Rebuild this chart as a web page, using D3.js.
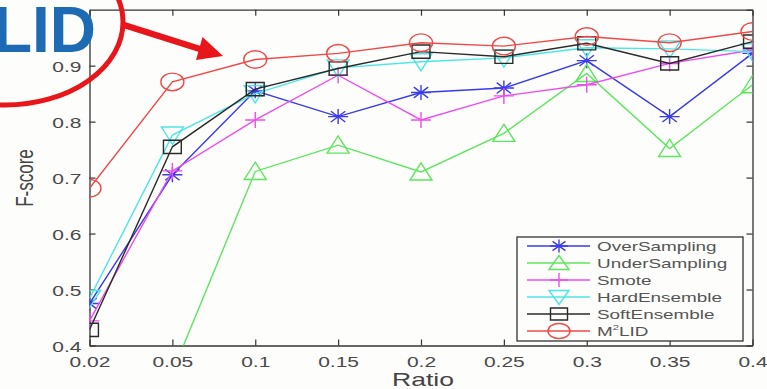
<!DOCTYPE html>
<html><head><meta charset="utf-8">
<script src="https://cdn.jsdelivr.net/npm/d3@7/dist/d3.min.js"></script>
<style>body{margin:0;background:#fdfdfb}svg{display:block}</style>
</head><body>
<script>
const categories = ["0.02","0.05","0.1","0.15","0.2","0.25","0.3","0.35","0.4"];
const yTicks = [0.4, 0.5, 0.6, 0.7, 0.8, 0.9];
const overSampling  = [0.475, 0.705, 0.855, 0.809, 0.852, 0.860, 0.909, 0.809, 0.922];
const underSampling = [0.300, 0.352, 0.711, 0.758, 0.710, 0.779, 0.886, 0.752, 0.866];
const smote         = [0.444, 0.712, 0.803, 0.883, 0.803, 0.846, 0.866, 0.904, 0.928];
const hardEnsemble  = [0.484, 0.776, 0.850, 0.896, 0.907, 0.914, 0.932, 0.930, 0.925];
const softEnsemble  = [0.428, 0.755, 0.858, 0.895, 0.925, 0.916, 0.940, 0.904, 0.943];
const m2lid         = [0.681, 0.871, 0.911, 0.922, 0.941, 0.935, 0.952, 0.941, 0.961];
const seriesNames = ["OverSampling","UnderSampling","Smote","HardEnsemble","SoftEnsemble","M2LID"];
const seriesColors = ["#3b3bee","#5ce65c","#ee4cee","#4ce6e6","#2a2a2a","#f04848"];
const seriesMarkers = ["star","triUp","plus","triDown","square","circle"];
const seriesValues = [overSampling, underSampling, smote, hardEnsemble, softEnsemble, m2lid];

const W = 767, H = 389;
const L = 89.5, R = 752.5, T = 9.7, B = 345.5;
const SX = 1.4;
const svg = d3.select("body").append("svg").attr("width", W).attr("height", H);
svg.append("rect").attr("width", W).attr("height", H).attr("fill", "#fdfdfb");

const x = d3.scalePoint().domain(categories).range([L, R]);
const y = d3.scaleLinear().domain([0.4, 1.0]).range([B, T]);

svg.append("defs").append("clipPath").attr("id","clip")
  .append("rect").attr("x", L).attr("y", T).attr("width", R-L).attr("height", B-T);

function markerPath(type, hx, hy) {
  switch (type) {
    case "star": {
      const a = 0.72;
      return `M${-hx},0H${hx}M0,${-hy}V${hy}M${-a*hx},${-a*hy}L${a*hx},${a*hy}M${-a*hx},${a*hy}L${a*hx},${-a*hy}`;
    }
    case "plus": return `M${-hx},0H${hx}M0,${-hy}V${hy}`;
    case "triUp": return `M0,${-hy*1.15}L${hx},${hy}L${-hx},${hy}Z`;
    case "triDown": return `M0,${hy*1.15}L${hx},${-hy}L${-hx},${-hy}Z`;
    case "square": return `M${-hx*0.85},${-hy*0.85}H${hx*0.85}V${hy*0.85}H${-hx*0.85}Z`;
    case "circle": return `M${-hx},0A${hx},${hy} 0 1,0 ${hx},0A${hx},${hy} 0 1,0 ${-hx},0Z`;
  }
}

// box + axes
const axisColor = "#333";
const labelColor = "#4a4a4a";
const xAxis = svg.append("g").attr("transform", `translate(0,${B})`)
  .call(d3.axisBottom(x).tickSizeInner(-6).tickSizeOuter(0).tickPadding(0));
xAxis.select(".domain").attr("stroke", axisColor).attr("stroke-width", 1.3);
xAxis.selectAll(".tick line").attr("stroke", axisColor).attr("stroke-width", 1.2);
xAxis.selectAll(".tick text").attr("y", 0).attr("dy", 0)
  .attr("transform", `translate(0,21) scale(${SX},1)`)
  .attr("fill", labelColor).attr("font-family", "Liberation Sans, Arial, sans-serif").attr("font-size", 15);

const xTop = svg.append("g").attr("transform", `translate(0,${T})`)
  .call(d3.axisTop(x).tickSizeInner(-6).tickSizeOuter(0).tickFormat(""));
xTop.select(".domain").attr("stroke", axisColor).attr("stroke-width", 1.3);
xTop.selectAll(".tick line").attr("stroke", axisColor).attr("stroke-width", 1.2);

const yAxis = svg.append("g").attr("transform", `translate(${L},0)`)
  .call(d3.axisLeft(y).tickValues(yTicks).tickFormat(d3.format(".1f")).tickSizeInner(-6).tickSizeOuter(0));
yAxis.select(".domain").attr("stroke", axisColor).attr("stroke-width", 1.3);
yAxis.selectAll(".tick line").attr("stroke", axisColor).attr("stroke-width", 1.2);
yAxis.selectAll(".tick text").attr("x", 0).attr("dy", 0)
  .attr("transform", `translate(-8,6) scale(${SX},1)`)
  .attr("fill", labelColor).attr("font-family", "Liberation Sans, Arial, sans-serif").attr("font-size", 15);

const yRight = svg.append("g").attr("transform", `translate(${R},0)`)
  .call(d3.axisRight(y).tickValues(yTicks.concat([1.0])).tickSizeInner(-6).tickSizeOuter(0).tickFormat(""));
yRight.select(".domain").attr("stroke", axisColor).attr("stroke-width", 1.3);
yRight.selectAll(".tick line").attr("stroke", axisColor).attr("stroke-width", 1.2);

// axis titles
svg.append("text").text("Ratio")
  .attr("transform", `translate(${(L+R)/2+2},386) scale(${SX},1)`)
  .attr("text-anchor","middle").attr("fill","#444")
  .attr("font-family","Liberation Sans, Arial, sans-serif").attr("font-size", 19);
svg.append("text").text("F-score")
  .attr("transform", `translate(33,178) scale(${SX},1) rotate(-90)`)
  .attr("text-anchor","middle").attr("fill","#444")
  .attr("font-family","Liberation Sans, Arial, sans-serif").attr("font-size", 17);

// series
const plot = svg.append("g").attr("clip-path","url(#clip)");
const line = d3.line().x((d,i) => x(categories[i])).y(d => y(d));
seriesValues.forEach((vals, s) => {
  const g = plot.append("g");
  g.append("path").attr("d", line(vals)).attr("fill","none")
    .attr("stroke", seriesColors[s]).attr("stroke-width", 1.4);
  const mk = seriesMarkers[s];
  const size = {star:[10,7.5], plus:[10,8], triUp:[11,8], triDown:[11,8], square:[10.5,7.8], circle:[11.5,8.8]}[mk];
  g.selectAll("path.m").data(vals).enter().append("path").attr("class","m")
    .attr("transform", (d,i) => `translate(${x(categories[i])},${y(d)})`)
    .attr("d", markerPath(mk, size[0], size[1]))
    .attr("fill","none").attr("stroke", seriesColors[s]).attr("stroke-width", 1.4);
});

// legend
const lg = svg.append("g");
lg.append("rect").attr("x",517).attr("y",237).attr("width",226).attr("height",104)
  .attr("fill","#fdfdfb").attr("stroke","#333").attr("stroke-width",1.3);
seriesNames.forEach((name, s) => {
  const cy = 246 + s*17;
  lg.append("line").attr("x1",527).attr("x2",590).attr("y1",cy).attr("y2",cy)
    .attr("stroke", seriesColors[s]).attr("stroke-width",1.4);
  const mk = seriesMarkers[s];
  const size = {star:[9,6.5], plus:[9,7], triUp:[10,6.5], triDown:[10,6.5], square:[10,7], circle:[11,7.5]}[mk];
  lg.append("path").attr("transform",`translate(559,${cy})`).attr("d", markerPath(mk, size[0], size[1]))
    .attr("fill","none").attr("stroke", seriesColors[s]).attr("stroke-width",1.4);
  const t = lg.append("text").attr("transform",`translate(597,${cy+5}) scale(${SX},1)`)
    .attr("fill","#555").attr("font-family","Liberation Sans, Arial, sans-serif").attr("font-size",13.5);
  if (name === "M2LID") {
    t.append("tspan").text("M");
    t.append("tspan").text("2").attr("font-size",8).attr("dy",-6);
    t.append("tspan").text("LID").attr("dy",6);
  } else t.text(name);
});

// annotation overlay
const red = "#e8151b";
svg.append("ellipse").attr("cx",5).attr("cy",22).attr("rx",118).attr("ry",83)
  .attr("fill","none").attr("stroke",red).attr("stroke-width",5);
svg.append("line").attr("x1",124).attr("y1",25).attr("x2",203).attr("y2",50)
  .attr("stroke",red).attr("stroke-width",6.5);
svg.append("path").attr("d","M223,56L196,60L202.5,37Z").attr("fill",red);
svg.append("text").text("LID").attr("x",96).attr("y",52).attr("text-anchor","end")
  .attr("fill","#1d6bb5").attr("font-family","Liberation Sans, Arial, sans-serif")
  .attr("font-weight","bold").attr("font-size",64);
</script>
</body></html>
